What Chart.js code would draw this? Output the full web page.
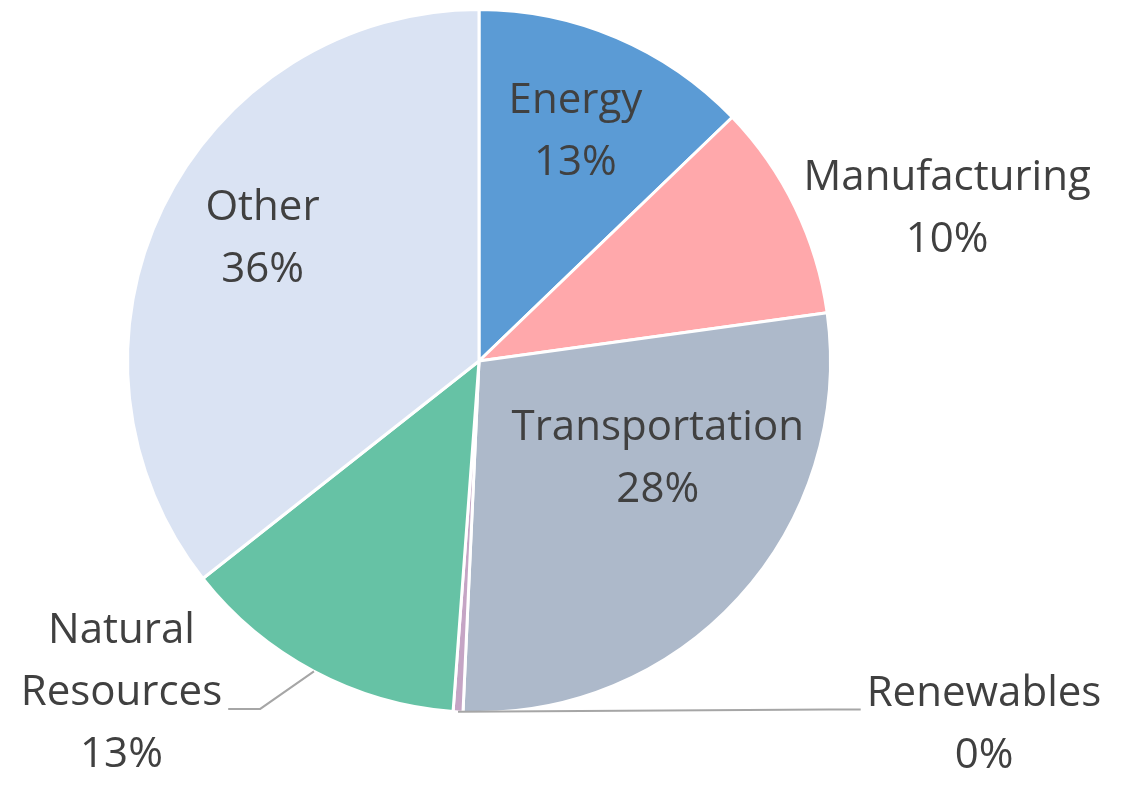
<!DOCTYPE html>
<html>
<head>
<meta charset="utf-8">
<script src="https://cdn.jsdelivr.net/npm/chart.js@4.4.1/dist/chart.umd.min.js"></script>
<style>
  html, body { margin: 0; padding: 0; background: #fff; }
</style>
</head>
<body>
<canvas id="pieChart" width="1127" height="786"></canvas>
<script>
// داده‌ها
const categories = ['Energy', 'Manufacturing', 'Transportation', 'Renewables', 'Natural Resources', 'Other'];
const shares = [12.8, 10.0, 27.9, 0.45, 13.2, 35.6];
const sliceColors = ['#5B9BD5', '#FFA8AB', '#ADB9CA', '#C5A5C5', '#66C2A5', '#DAE3F3'];
// how each category name is broken over lines
const labelLines = [['Energy'], ['Manufacturing'], ['Transportation'], ['Renewables'], ['Natural', 'Resources'], ['Other']];

// label placement: angle (deg, clockwise from top) and distance as a factor of the radius
const labelAngle = [22.7, 71.8, 118.2, 125.6, 227.3, 299.7];
const labelDist = [0.711, 1.402, 0.577, 1.767, 1.384, 0.709];
const hasLeader = [false, false, false, true, true, false];

const total = shares.reduce((a, b) => a + b, 0);

const sliceLabels = {
    id: 'sliceLabels',
    afterDatasetsDraw(chart) {
        const ctx = chart.ctx;
        const arcs = chart.getDatasetMeta(0).data;
        const lh = 62;
        ctx.save();
        ctx.font = '42px "Open Sans"';
        ctx.textAlign = 'center';
        ctx.textBaseline = 'middle';
        arcs.forEach((arc, i) => {
            const r = arc.outerRadius;
            const a = labelAngle[i] * Math.PI / 180;
            const cx = arc.x + Math.sin(a) * r * labelDist[i];
            const cy = arc.y - Math.cos(a) * r * labelDist[i] + 2;
            const lines = labelLines[i].concat(Math.round(shares[i] / total * 100) + '%');
            const top = cy - (lines.length - 1) * lh / 2;

            if (hasLeader[i]) {
                // widest line gets the leader
                let k = 0, w = 0;
                lines.forEach((t, j) => {
                    const tw = ctx.measureText(t).width;
                    if (tw > w) { w = tw; k = j; }
                });
                const mid = (arc.startAngle + arc.endAngle) / 2;
                const sx = arc.x + Math.cos(mid) * r;
                const sy = arc.y + Math.sin(mid) * r;
                const right = cx > arc.x;
                const ex = right ? cx - w / 2 - 6 : cx + w / 2 + 6;
                const ey = top + k * lh + 16;
                const bx = ex + (right ? -32 : 32);
                ctx.strokeStyle = '#A6A6A6';
                ctx.lineWidth = 2;
                ctx.beginPath();
                ctx.moveTo(sx, sy);
                ctx.lineTo(bx, ey);
                ctx.lineTo(ex, ey);
                ctx.stroke();
            }

            ctx.fillStyle = '#404040';
            lines.forEach((t, j) => ctx.fillText(t, cx, top + j * lh));
        });
        ctx.restore();
    }
};

const pieCtx = document.getElementById('pieChart').getContext('2d');
const pieChart = new Chart(pieCtx, {
    type: 'pie',
    data: {
        labels: categories,
        datasets: [{
            data: shares,
            backgroundColor: sliceColors,
            borderColor: '#ffffff',
            borderWidth: 3
        }]
    },
    options: {
        responsive: false,
        animation: false,
        layout: {
            padding: { top: 8, bottom: 72, left: 126, right: 295 }
        },
        plugins: {
            legend: { display: false },
            tooltip: { enabled: false }
        }
    },
    plugins: [sliceLabels]
});
</script>
</body>
</html>
